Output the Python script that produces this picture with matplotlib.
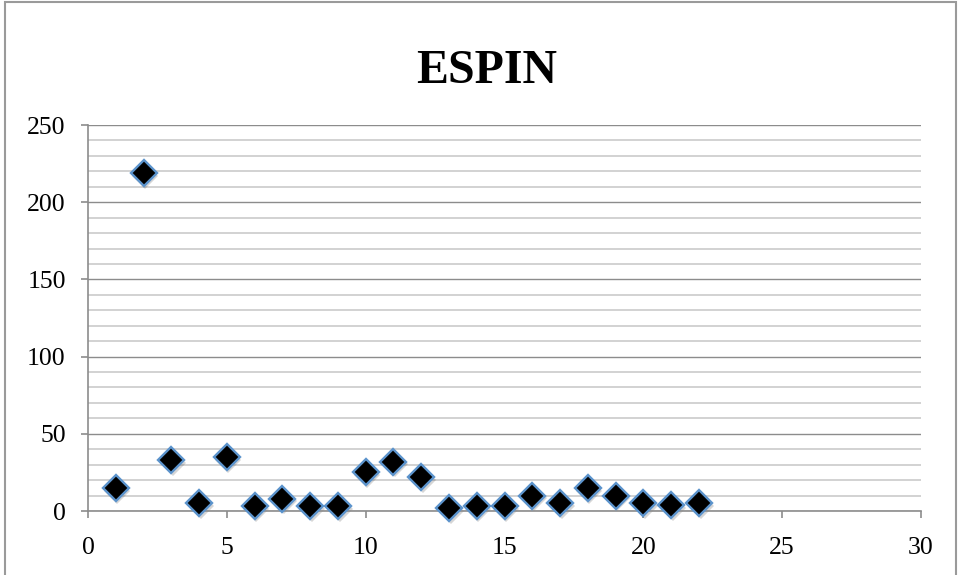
import numpy as np
import matplotlib.pyplot as plt
from matplotlib.patches import Rectangle
from matplotlib.ticker import MultipleLocator

# values
x_vals = [1, 2, 3, 4, 5, 6, 7, 8, 9, 10, 11, 12, 13, 14, 15, 16, 17, 18, 19, 20, 21, 22]
y_vals = [15, 219, 33, 5, 35, 3, 8, 3, 3, 25, 32, 22, 2, 3, 3, 10, 5, 15, 10, 5, 4, 5]
title = "ESPIN"

plt.rcParams['font.family'] = ['Liberation Serif', 'DejaVu Serif']

fig = plt.figure(figsize=(9.59, 5.75), dpi=100)
ax = fig.add_axes([88 / 959, 1 - 511 / 575, (921 - 88) / 959, (511 - 125) / 575])

# chart-area border
fig.patches.append(Rectangle((5 / 959, -0.01), 951 / 959, 1 - 1.5 / 575 + 0.01,
                             transform=fig.transFigure, fill=False,
                             edgecolor='#9a9a9a', lw=1.5))

ax.set_xlim(0, 30)
ax.set_ylim(0, 250)
ax.xaxis.set_major_locator(MultipleLocator(5))
ax.yaxis.set_major_locator(MultipleLocator(50))
ax.yaxis.set_minor_locator(MultipleLocator(10))

ax.grid(which='minor', axis='y', color='#c6c6c6', lw=1.1, zorder=0)
ax.grid(which='major', axis='y', color='#8c8c8c', lw=1.0, zorder=0)
ax.set_axisbelow(True)

for s in ['top', 'right']:
    ax.spines[s].set_visible(False)
for s in ['left', 'bottom']:
    ax.spines[s].set_color('#8c8c8c')
    ax.spines[s].set_linewidth(1.2)

ax.tick_params(axis='both', which='major', direction='out', length=5,
               width=1.2, color='#8c8c8c', labelsize=18.5, pad=11)
ax.tick_params(axis='x', pad=14)
ax.tick_params(axis='y', which='minor', length=0)

# soft shadow under the markers
ax.plot(np.array(x_vals) + 0.06, np.array(y_vals) - 1.8, 'D', ms=13.5,
        color='#000000', alpha=0.16, mew=0, zorder=2, clip_on=False)
ax.plot(x_vals, y_vals, 'D', ms=13, markerfacecolor='black',
        markeredgecolor='#5b93cc', mew=1.7, lw=0, zorder=3, clip_on=False)

fig.text(487 / 959, 1 - 83 / 575, title, ha='center', va='baseline',
         fontsize=34.5, fontweight='bold')

fig.savefig('out.png', dpi=100)
